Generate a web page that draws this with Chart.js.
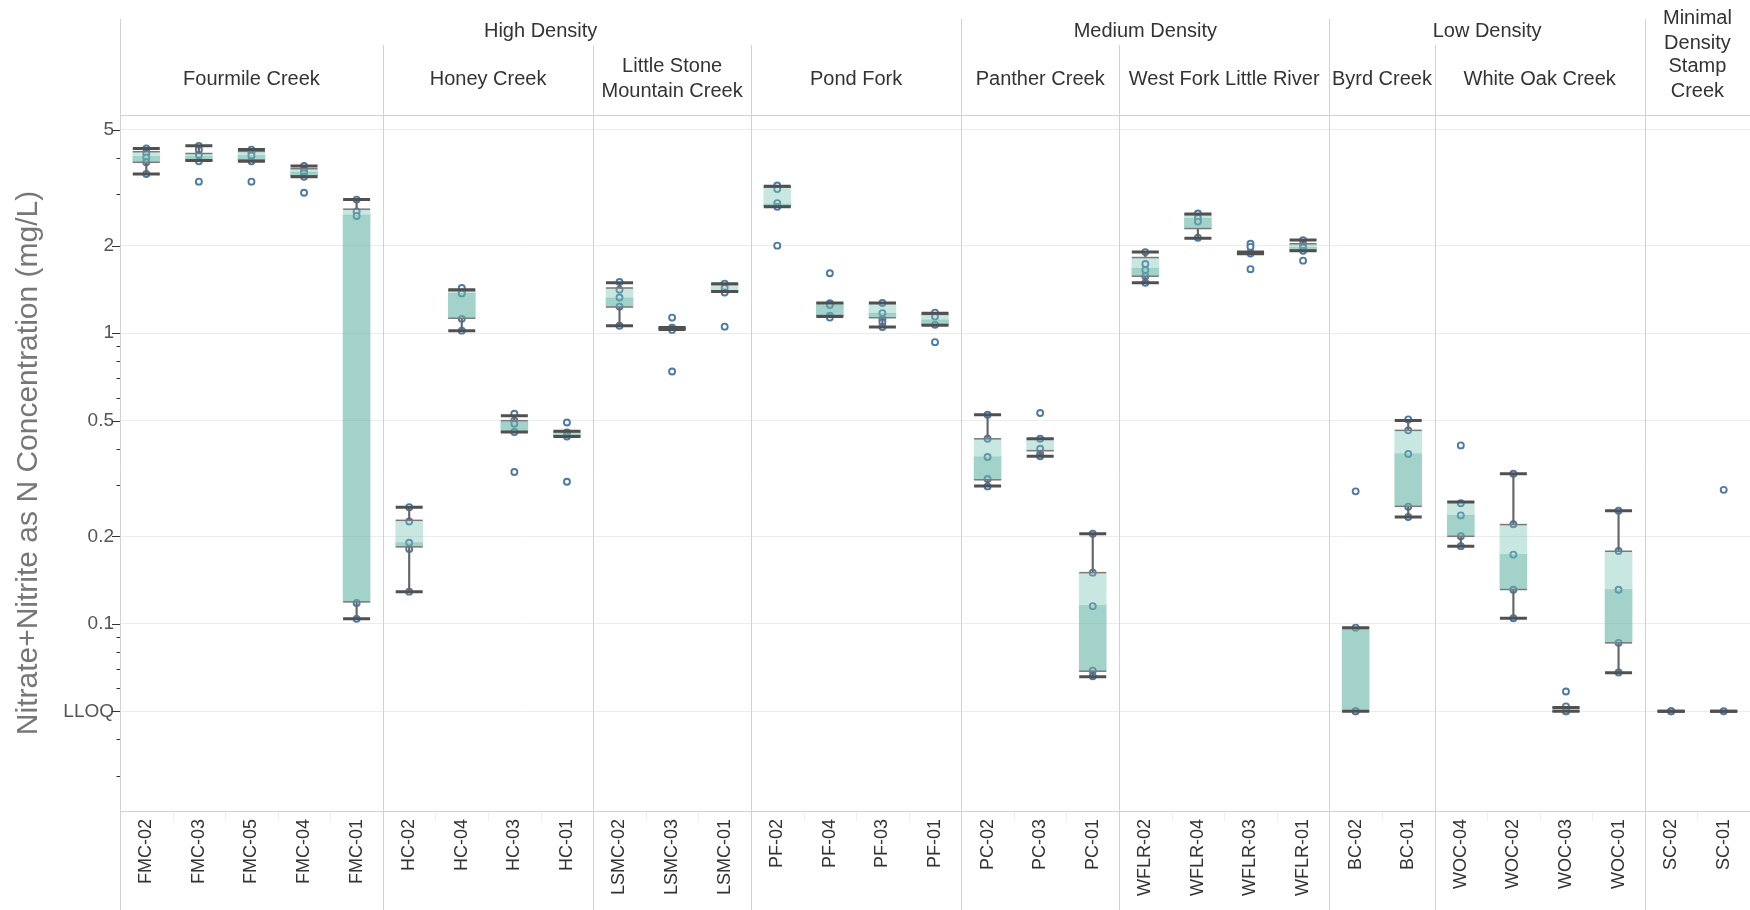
<!DOCTYPE html>
<html>
<head>
<meta charset="utf-8">
<title>Nitrate+Nitrite by site</title>
<script src="https://cdn.jsdelivr.net/npm/chart.js@4.4.1/dist/chart.umd.min.js"></script>
<style>
  html, body { margin: 0; padding: 0; background: #ffffff; }
  #wrap { width: 1750px; height: 910px; position: relative; overflow: hidden; }
</style>
</head>
<body>
<div id="wrap"><canvas id="chart" width="1750" height="910"></canvas></div>
<script>
// Sampling sites, left to right
const sites = ['FMC-02','FMC-03','FMC-05','FMC-04','FMC-01',
               'HC-02','HC-04','HC-03','HC-01',
               'LSMC-02','LSMC-03','LSMC-01',
               'PF-02','PF-04','PF-03','PF-01',
               'PC-02','PC-03','PC-01',
               'WFLR-02','WFLR-04','WFLR-03','WFLR-01',
               'BC-02','BC-01',
               'WOC-04','WOC-02','WOC-03','WOC-01',
               'SC-02','SC-01'];

// Column headers: creeks (with number of sites) and land-use density groups (with number of creeks)
const creekNames = [['Fourmile Creek'], ['Honey Creek'], ['Little Stone', 'Mountain Creek'], ['Pond Fork'],
                    ['Panther Creek'], ['West Fork Little River'], ['Byrd Creek'], ['White Oak Creek'],
                    ['Stamp', 'Creek']];
const creekSiteCounts = [5, 4, 3, 4, 3, 4, 2, 4, 2];
const densityNames = [['High Density'], ['Medium Density'], ['Low Density'], ['Minimal', 'Density']];
const densityCreekCounts = [4, 2, 2, 1];

// Box plot summaries (mg/L); 0.05 is the lower limit of quantitation
const whiskerLow  = [3.53, 3.93, 3.90, 3.45, 0.104, 0.129, 1.02, 0.457, 0.441, 1.06, 1.03, 1.39,
                     2.72, 1.14, 1.05, 1.065, 0.298, 0.377, 0.0657, 1.49, 2.12, 1.875, 1.92,
                     0.05, 0.233, 0.185, 0.1045, 0.05, 0.0679, 0.05, 0.05];
const quartile1   = [3.87, 3.93, 3.94, 3.48, 0.119, 0.184, 1.125, 0.457, 0.443, 1.23, 1.035, 1.39,
                     2.74, 1.15, 1.13, 1.07, 0.313, 0.394, 0.0687, 1.57, 2.29, 1.88, 1.93,
                     0.05, 0.2536, 0.2, 0.1312, 0.05, 0.086, 0.05, 0.05];
const medians     = [4.05, 4.05, 4.08, 3.58, 2.55, 0.19, 1.37, 0.495, 0.45, 1.32, 1.04, 1.40,
                     2.78, 1.25, 1.17, 1.11, 0.375, 0.396, 0.1156, 1.67, 2.48, 1.885, 1.97,
                     0.097, 0.3847, 0.236, 0.173, 0.05, 0.1312, 0.05, 0.05];
const quartile3   = [4.21, 4.15, 4.22, 3.68, 2.67, 0.227, 1.40, 0.50, 0.458, 1.43, 1.045, 1.47,
                     3.18, 1.27, 1.27, 1.16, 0.433, 0.433, 0.150, 1.82, 2.56, 1.89, 2.03,
                     0.097, 0.463, 0.2626, 0.2195, 0.0515, 0.1777, 0.05, 0.05];
const whiskerHigh = [4.32, 4.41, 4.28, 3.76, 2.88, 0.252, 1.41, 0.52, 0.46, 1.49, 1.045, 1.48,
                     3.20, 1.27, 1.27, 1.17, 0.524, 0.433, 0.204, 1.90, 2.57, 1.90, 2.09,
                     0.097, 0.5007, 0.2626, 0.3285, 0.0515, 0.245, 0.05, 0.05];

// Individual sample results per site (mg/L)
const samples = [
  [4.32, 4.15, 4.02, 3.87, 3.53],
  [4.41, 4.27, 4.10, 3.90, 3.32],
  [4.28, 4.18, 4.08, 3.90, 3.32],
  [3.76, 3.62, 3.55, 3.45, 3.04],
  [2.88, 2.62, 2.53, 0.118, 0.104],
  [0.252, 0.225, 0.19, 0.181, 0.129],
  [1.43, 1.38, 1.37, 1.12, 1.02],
  [0.528, 0.50, 0.488, 0.457, 0.333],
  [0.493, 0.455, 0.45, 0.441, 0.308],
  [1.50, 1.41, 1.326, 1.234, 1.06],
  [1.131, 1.045, 1.04, 1.026, 0.738],
  [1.48, 1.43, 1.38, 1.053],
  [3.22, 3.13, 2.80, 2.72, 2.0],
  [1.607, 1.268, 1.25, 1.149, 1.131],
  [1.27, 1.172, 1.117, 1.09, 1.05],
  [1.177, 1.14, 1.068, 0.931],
  [0.524, 0.433, 0.375, 0.315, 0.297],
  [0.531, 0.433, 0.40, 0.384, 0.377],
  [0.204, 0.150, 0.115, 0.069, 0.066],
  [1.90, 1.73, 1.65, 1.57, 1.49],
  [2.58, 2.49, 2.42, 2.13],
  [2.03, 1.98, 1.89, 1.88, 1.66],
  [2.09, 2.02, 1.97, 1.92, 1.776],
  [0.2856, 0.097, 0.05, 0.05],
  [0.505, 0.463, 0.384, 0.253, 0.233],
  [0.411, 0.26, 0.236, 0.2, 0.185],
  [0.3285, 0.22, 0.173, 0.131, 0.1045],
  [0.0585, 0.052, 0.05, 0.05],
  [0.245, 0.178, 0.131, 0.086, 0.068],
  [0.05, 0.05],
  [0.289, 0.05]
];

// Log axis ticks
const yTickValues = [5, 2, 1, 0.5, 0.2, 0.1, 0.05];
const yTickLabels = ['5', '2', '1', '0.5', '0.2', '0.1', 'LLOQ'];
const yMinorValues = [4, 3, 0.9, 0.8, 0.7, 0.6, 0.4, 0.3, 0.09, 0.08, 0.07, 0.06, 0.04, 0.03];

const FONT = "'Liberation Sans', Arial, sans-serif";
const BOX_W = 27;
const LINE_GREY = '#d2d2d2';

const upperBox = sites.map((s, i) => [medians[i], quartile3[i]]);
const lowerBox = sites.map((s, i) => [quartile1[i], medians[i]]);
const upperWhisker = sites.map((s, i) => [quartile3[i], whiskerHigh[i]]);
const lowerWhisker = sites.map((s, i) => [whiskerLow[i], quartile1[i]]);
const samplePoints = samples.flatMap((vals, i) => vals.map(v => ({ x: sites[i], y: v })));

function edgeLine(data, width, color, order) {
  return {
    type: 'line', data, showLine: false, order,
    pointStyle: 'line', pointRadius: BOX_W / 2, pointHoverRadius: BOX_W / 2,
    pointBorderWidth: width, pointBorderColor: color, pointBackgroundColor: color
  };
}

// Frame, header rows and axis tick marks
const framePlugin = {
  id: 'frame',
  beforeDatasetsDraw(chart) {
    const { ctx, chartArea: area, scales: { x, y } } = chart;
    const band = x.getPixelForValue(1) - x.getPixelForValue(0);
    const edgeOf = idx => x.getPixelForValue(idx) - band / 2;
    const H = chart.height;
    ctx.save();
    ctx.lineWidth = 1;

    // faint separators between site labels
    ctx.strokeStyle = '#efefef';
    for (let i = 1; i < sites.length; i++) {
      const px = Math.round(edgeOf(i)) + 0.5;
      ctx.beginPath(); ctx.moveTo(px, area.bottom); ctx.lineTo(px, area.bottom + 10); ctx.stroke();
    }

    // creek and density boundaries
    ctx.strokeStyle = LINE_GREY;
    const densityStarts = new Set();
    let c = 0;
    densityCreekCounts.forEach(n => { densityStarts.add(c); c += n; });
    let siteIdx = 0;
    creekSiteCounts.forEach((n, ci) => {
      if (ci > 0) {
        const px = Math.round(edgeOf(siteIdx)) + 0.5;
        const top = densityStarts.has(ci) ? 19 : 45;
        ctx.beginPath(); ctx.moveTo(px, top); ctx.lineTo(px, H); ctx.stroke();
      }
      siteIdx += n;
    });
    const lx = Math.round(area.left) + 0.5;
    ctx.beginPath(); ctx.moveTo(lx, 19); ctx.lineTo(lx, H); ctx.stroke();
    const hy = Math.round(area.top) + 0.5;
    const by = Math.round(area.bottom) + 0.5;
    ctx.beginPath(); ctx.moveTo(area.left, hy); ctx.lineTo(area.right, hy); ctx.stroke();
    ctx.beginPath(); ctx.moveTo(area.left, by); ctx.lineTo(area.right, by); ctx.stroke();

    // y tick marks
    ctx.strokeStyle = '#333333';
    yTickValues.forEach(v => {
      const py = Math.round(y.getPixelForValue(v)) + 0.5;
      ctx.beginPath(); ctx.moveTo(area.left - 8, py); ctx.lineTo(area.left, py); ctx.stroke();
    });
    yMinorValues.forEach(v => {
      const py = Math.round(y.getPixelForValue(v)) + 0.5;
      ctx.beginPath(); ctx.moveTo(area.left - 3.5, py); ctx.lineTo(area.left, py); ctx.stroke();
    });

    // header text
    ctx.fillStyle = '#333333';
    ctx.font = '20px ' + FONT;
    ctx.textAlign = 'center';
    ctx.textBaseline = 'middle';
    const drawLines = (lines, cx, cy) => {
      const step = 25.5;
      const y0 = cy - (lines.length - 1) * step / 2;
      lines.forEach((t, k) => ctx.fillText(t, cx, y0 + k * step));
    };
    siteIdx = 0;
    const creekStart = [];
    creekSiteCounts.forEach((n, ci) => {
      creekStart.push(siteIdx);
      const cx = (edgeOf(siteIdx) + edgeOf(siteIdx + n)) / 2;
      drawLines(creekNames[ci], cx, 79);
      siteIdx += n;
    });
    creekStart.push(sites.length);
    c = 0;
    densityCreekCounts.forEach((n, di) => {
      const cx = (edgeOf(creekStart[c]) + edgeOf(creekStart[c + n])) / 2;
      drawLines(densityNames[di], cx, 31);
      c += n;
    });
    ctx.restore();
  }
};

new Chart(document.getElementById('chart'), {
  type: 'bar',
  data: {
    labels: sites,
    datasets: [
      {
        type: 'line', label: 'Samples', data: samplePoints, showLine: false, order: 10,
        pointStyle: 'circle', pointRadius: 3, pointHoverRadius: 3, pointBorderWidth: 1.9,
        pointBorderColor: '#4e79a7', pointBackgroundColor: '#ffffff'
      },
      { label: 'Upper whisker', data: upperWhisker, backgroundColor: '#666666', barThickness: 1.5, grouped: false, order: 6 },
      { label: 'Lower whisker', data: lowerWhisker, backgroundColor: '#666666', barThickness: 1.5, grouped: false, order: 6 },
      { label: 'Median to Q3', data: upperBox, backgroundColor: 'rgba(120,195,180,0.40)', barThickness: BOX_W, grouped: false, order: 5 },
      { label: 'Q1 to median', data: lowerBox, backgroundColor: 'rgba(100,180,165,0.60)', barThickness: BOX_W, grouped: false, order: 5 },
      edgeLine(quartile3, 1.5, '#7a7a7a', 3),
      edgeLine(quartile1, 1.5, '#7a7a7a', 3),
      edgeLine(whiskerHigh, 3, '#505050', 1),
      edgeLine(whiskerLow, 3, '#505050', 1)
    ]
  },
  options: {
    responsive: false,
    animation: false,
    events: [],
    layout: { autoPadding: false, padding: { top: 115, left: 0, right: -4, bottom: 0 } },
    plugins: { legend: { display: false }, tooltip: { enabled: false } },
    scales: {
      x: {
        type: 'category', offset: true,
        grid: { display: false, drawTicks: false },
        border: { display: false },
        ticks: {
          autoSkip: false, minRotation: 90, maxRotation: 90, padding: 8,
          color: '#333333', font: { family: FONT, size: 18 }
        },
        afterFit: s => { s.height = 99; s.paddingLeft = 0; s.paddingRight = 0; }
      },
      y: {
        type: 'logarithmic', min: 0.0227, max: 5.63,
        afterBuildTicks: s => {
          s.ticks = yTickValues.concat(yMinorValues).sort((a, b) => a - b).map(v => ({ value: v }));
        },
        grid: {
          drawTicks: false,
          color: c => (c.tick && yTickValues.includes(c.tick.value)) ? '#ececec' : 'rgba(0,0,0,0)'
        },
        border: { display: false },
        ticks: {
          autoSkip: false, padding: 6, color: '#555555', font: { family: FONT, size: 19 },
          callback: v => { const k = yTickValues.indexOf(v); return k >= 0 ? yTickLabels[k] : ''; }
        },
        title: {
          display: true, text: 'Nitrate+Nitrite as N Concentration (mg/L)', color: '#777777',
          font: { family: FONT, size: 30 }, padding: { top: 11, bottom: 0 }
        },
        afterFit: s => { s.width = 120; s.paddingTop = 0; s.paddingBottom = 0; }
      }
    }
  },
  plugins: [framePlugin]
});
</script>
</body>
</html>
